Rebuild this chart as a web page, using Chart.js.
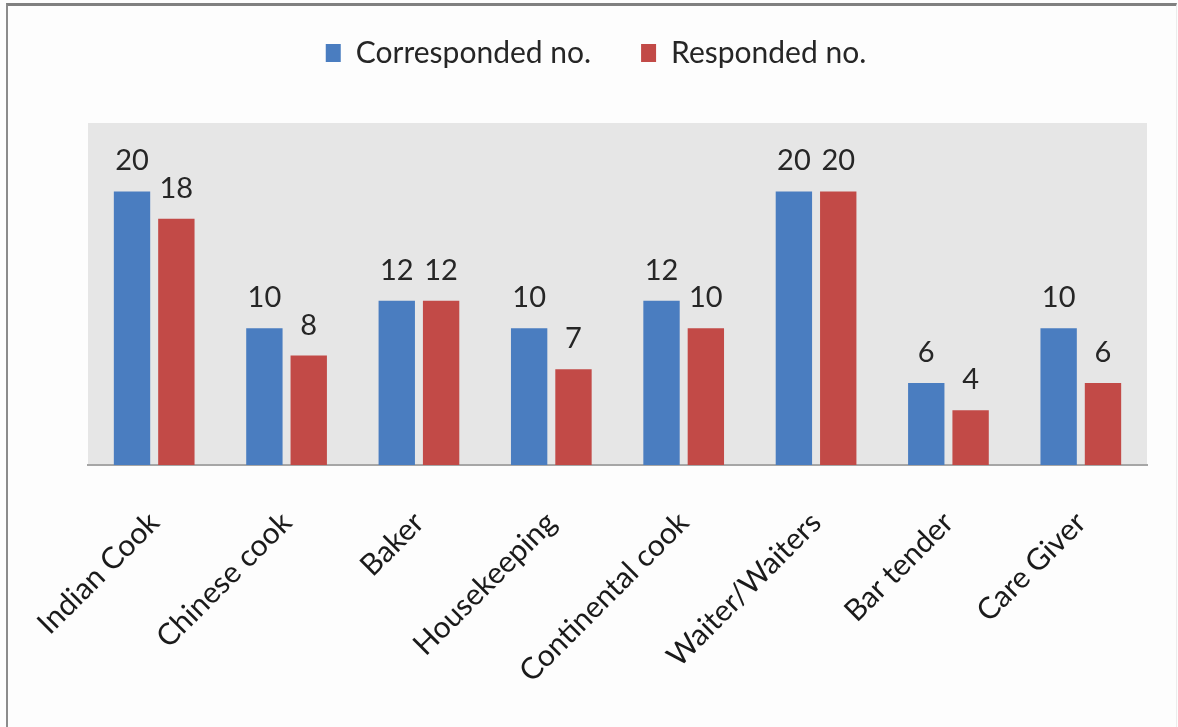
<!DOCTYPE html>
<html>
<head>
<meta charset="utf-8">
<script src="https://cdn.jsdelivr.net/npm/chart.js@4"></script>
<style>
  html, body { margin: 0; padding: 0; background: #fdfdfd; }
  #wrap { position: relative; width: 1178px; height: 727px; }
  #frame {
    position: absolute; left: 6px; top: 3px; right: 1px; bottom: -4px;
    border-top: 3px solid #808080; border-left: 2px solid #8c8c8c;
    border-right: 1px solid #ececec; pointer-events: none;
  }
</style>
</head>
<body>
<div id="wrap">
  <canvas id="jobsChart" width="1178" height="727"></canvas>
  <div id="frame"></div>
</div>
<script>
const categories = ['Indian Cook', 'Chinese cook', 'Baker', 'Housekeeping',
  'Continental cook', 'Waiter/Waiters', 'Bar tender', 'Care Giver'];
const corresponded = [20, 10, 12, 10, 12, 20, 6, 10];
const responded = [18, 8, 12, 7, 10, 20, 4, 6];

const FONT = 'Lato, "Open Sans", sans-serif';

// grey plot background behind the bars
const plotBackground = {
  id: 'plotBackground',
  beforeDraw(chart) {
    const { ctx, chartArea: a } = chart;
    ctx.save();
    ctx.fillStyle = '#e6e6e6';
    ctx.fillRect(a.left, a.top, a.right - a.left, a.bottom - a.top);
    ctx.restore();
  }
};

// value printed above every bar
const barValues = {
  id: 'barValues',
  afterDatasetsDraw(chart) {
    const ctx = chart.ctx;
    ctx.save();
    ctx.font = '29px ' + FONT;
    ctx.fillStyle = '#262626';
    ctx.textAlign = 'center';
    ctx.textBaseline = 'alphabetic';
    chart.data.datasets.forEach((ds, i) => {
      chart.getDatasetMeta(i).data.forEach((bar, j) => {
        ctx.fillText(ds.data[j], bar.x, bar.y - 21);
      });
    });
    ctx.restore();
  }
};

// keep the legend block tall enough so the plot starts lower
const legendHeight = {
  id: 'legendHeight',
  afterInit(chart) {
    const legend = chart.legend;
    const fit = legend.fit;
    legend.fit = function () {
      fit.call(this);
      this.height = 135;
    };
  }
};

new Chart(document.getElementById('jobsChart'), {
  type: 'bar',
  data: {
    labels: categories,
    datasets: [
      { label: 'Corresponded no.', data: corresponded, backgroundColor: '#4a7dc0' },
      { label: 'Responded no.', data: responded, backgroundColor: '#c24a47' }
    ]
  },
  options: {
    responsive: false,
    animation: false,
    categoryPercentage: 0.67,
    barPercentage: 0.82,
    layout: { padding: { left: 45, right: 31, top: -12, bottom: 0 } },
    plugins: {
      legend: {
        position: 'top',
        labels: {
          boxWidth: 15,
          boxHeight: 18,
          padding: 50,
          color: '#262626',
          font: { family: FONT, size: 30 }
        }
      },
      tooltip: { enabled: false }
    },
    scales: {
      x: {
        grid: { display: false },
        border: { display: true, color: '#a6a6a6', width: 2 },
        ticks: {
          minRotation: 45,
          maxRotation: 45,
          padding: 32,
          color: '#1a1a1a',
          font: { family: FONT, size: 30 }
        },
        afterFit(scale) { scale.height = 262; }
      },
      y: {
        min: 0,
        max: 25,
        // hidden axis, only reserves the space left of the plot
        grid: { display: false },
        border: { display: false },
        ticks: { display: false },
        afterFit(scale) { scale.width = 43; }
      }
    }
  },
  plugins: [plotBackground, barValues, legendHeight]
});
</script>
</body>
</html>
